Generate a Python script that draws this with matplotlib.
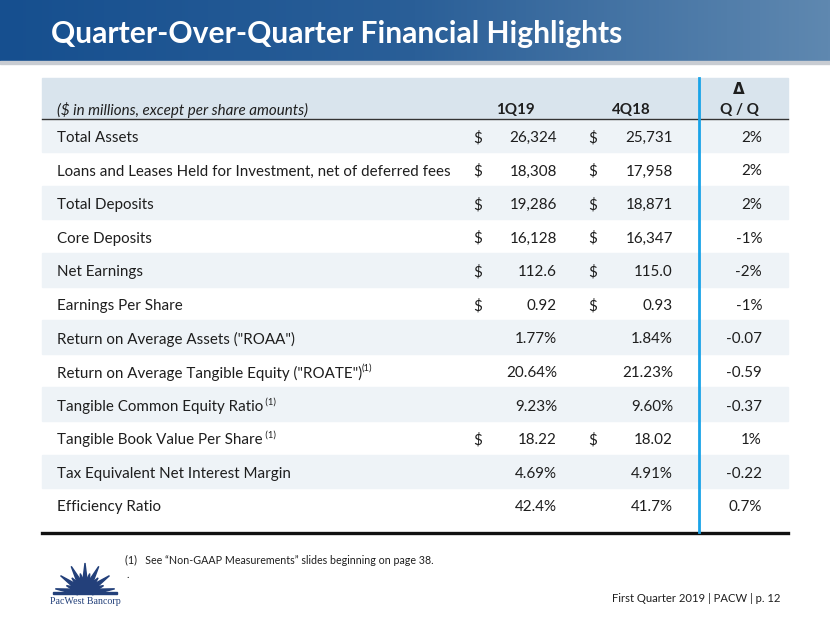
import numpy as np
import matplotlib.pyplot as plt
from matplotlib.patches import Rectangle, Polygon, Wedge

plt.rcParams['font.family'] = ['Lato', 'DejaVu Sans']

# Table contents
title = 'Quarter-Over-Quarter Financial Highlights'
header_note = '($ in millions, except per share amounts)'
periods = ['1Q19', '4Q18']
labels = ['Total Assets',
          'Loans and Leases Held for Investment, net of deferred fees',
          'Total Deposits',
          'Core Deposits',
          'Net Earnings',
          'Earnings Per Share',
          'Return on Average Assets ("ROAA")',
          'Return on Average Tangible Equity ("ROATE")',
          'Tangible Common Equity Ratio',
          'Tangible Book Value Per Share',
          'Tax Equivalent Net Interest Margin',
          'Efficiency Ratio']
footnote_ref = ['', '', '', '', '', '', '', '(1)', ' (1)', ' (1)', '', '']
has_dollar = [True, True, True, True, True, True, False, False, False, True, False, False]
q1_values = ['26,324', '18,308', '19,286', '16,128', '112.6', '0.92',
             '1.77%', '20.64%', '9.23%', '18.22', '4.69%', '42.4%']
q4_values = ['25,731', '17,958', '18,871', '16,347', '115.0', '0.93',
             '1.84%', '21.23%', '9.60%', '18.02', '4.91%', '41.7%']
change = ['2%', '2%', '2%', '-1%', '-2%', '-1%',
          '-0.07', '-0.59', '-0.37', '1%', '-0.22', '0.7%']
footnote = '(1)   See \u201cNon-GAAP Measurements\u201d slides beginning on page 38.'
footer = 'First Quarter 2019 | PACW | p. 12'

W, H = 830, 623
fig = plt.figure(figsize=(W / 100, H / 100), dpi=100)
ax = fig.add_axes([0, 0, 1, 1])
ax.set_xlim(0, W)
ax.set_ylim(H, 0)
ax.axis('off')

txt = '#1e1e1e'

# Title banner with gradient
grad = np.linspace(0, 1, 256).reshape(1, -1)
ax.imshow(grad, extent=[0, W, 61, 0], aspect='auto', zorder=1,
          cmap=plt.matplotlib.colors.LinearSegmentedColormap.from_list(
              'ban', ['#164f8f', '#2a5f98', '#5f88b0']))
ax.add_patch(Rectangle((0, 61), W, 3, color='#c8ccd2', zorder=1))
ax.text(51, 34, title, color='white', fontsize=21.6, fontweight='bold',
        va='center', ha='left', zorder=2)

# Table geometry
left, right = 42, 788
head_top, head_bot = 78, 118.5
row_h = 33.6
n = len(labels)
x_label = 57
x_d1, x_v1 = 478, 557
x_d2, x_v2 = 593, 673
x_chg = 762
x_div = 699

ax.add_patch(Rectangle((left, head_top), right - left, head_bot - head_top,
                       color='#d9e4ed', zorder=1))
for i in range(n):
    y0 = head_bot + i * row_h
    if i % 2 == 0:
        ax.add_patch(Rectangle((left, y0), right - left, row_h,
                               color='#eef3f7', zorder=1))

ax.plot([left, right], [head_bot, head_bot], color='#333333', lw=1.0, zorder=3)
bottom = head_bot + n * row_h + 11
ax.plot([left, right], [bottom, bottom], color='#111111', lw=2.4, zorder=3)
ax.plot([x_div, x_div], [head_top, bottom - 1], color='#1aa3e8', lw=2.0, zorder=4)

fs = 10.9
dy = 2.5
# Header
ax.text(x_label, 107 + dy, header_note, fontsize=fs, style='italic', color=txt,
        va='center', ha='left', zorder=5)
ax.text((x_d1 + x_v1) / 2 - 2, 107 + dy, periods[0], fontsize=fs, fontweight='bold',
        color=txt, va='center', ha='center', zorder=5)
ax.text((x_d2 + x_v2) / 2 - 2, 107 + dy, periods[1], fontsize=fs, fontweight='bold',
        color=txt, va='center', ha='center', zorder=5)
ax.text(739, 89, '\u0394', fontsize=fs, fontweight='bold', color=txt,
        va='center', ha='center', zorder=5, family=['DejaVu Sans'])
ax.text(739, 107 + dy, 'Q / Q', fontsize=fs, fontweight='bold', color=txt,
        va='center', ha='center', zorder=5)

renderer = fig.canvas.get_renderer()
inv = ax.transData.inverted()
for i in range(n):
    yc = head_bot + (i + 0.5) * row_h + dy
    t = ax.text(x_label, yc, labels[i], fontsize=fs, color=txt,
                va='center', ha='left', zorder=5)
    if footnote_ref[i]:
        bb = t.get_window_extent(renderer)
        xe = inv.transform((bb.x1, bb.y0))[0]
        ax.text(xe, yc - 5, footnote_ref[i], fontsize=fs * 0.62, color=txt,
                va='center', ha='left', zorder=5)
    if has_dollar[i]:
        ax.text(x_d1, yc, '$', fontsize=fs, color=txt, va='center', ha='center', zorder=5)
        ax.text(x_d2, yc, '$', fontsize=fs, color=txt, va='center', ha='center', zorder=5)
    ax.text(x_v1, yc, q1_values[i], fontsize=fs, color=txt, va='center', ha='right', zorder=5)
    ax.text(x_v2, yc, q4_values[i], fontsize=fs, color=txt, va='center', ha='right', zorder=5)
    ax.text(x_chg, yc, change[i], fontsize=fs, color=txt, va='center', ha='right', zorder=5)

# Footnote and footer
ax.text(125, 560, footnote, fontsize=7.7, color=txt, va='center', ha='left')
ax.text(126, 574, '.', fontsize=7.7, color=txt, va='center', ha='left')
ax.text(780, 598, footer, fontsize=8.1, color=txt, va='center', ha='right')

# Logo: sunburst with company name
navy = '#23407a'
cx, cy = 85, 593
ax.add_patch(Wedge((cx, cy), 9, 180, 360, color=navy, zorder=2))
ax.add_patch(Rectangle((cx - 32, cy - 1.5), 64, 2.5, color=navy, zorder=2))
for k, ang in enumerate(np.linspace(8, 172, 13)):
    a = np.deg2rad(ang)
    ln = 30 if k % 2 == 0 else 20
    tip = (cx + ln * np.cos(a), cy - ln * np.sin(a))
    pa, pb = a + np.pi / 2, a - np.pi / 2
    base1 = (cx + 7 * np.cos(a) + 2.8 * np.cos(pa), cy - 7 * np.sin(a) - 2.8 * np.sin(pa))
    base2 = (cx + 7 * np.cos(a) + 2.8 * np.cos(pb), cy - 7 * np.sin(a) - 2.8 * np.sin(pb))
    ax.add_patch(Polygon([base1, tip, base2], closed=True, color=navy, zorder=2))
ax.text(cx, 601, 'PacWest Bancorp', fontsize=7.2, family='Liberation Serif',
        color=navy, va='center', ha='center')

fig.savefig('out.png', dpi=100)
